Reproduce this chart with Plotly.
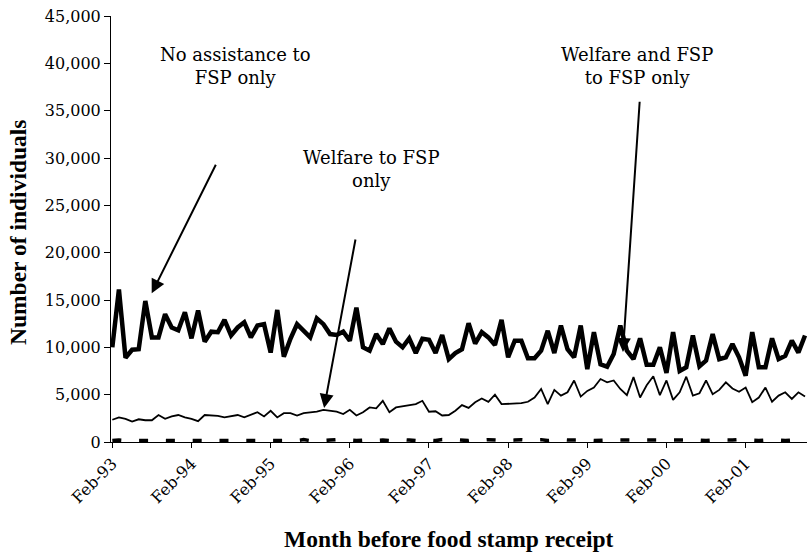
import pandas as pd
import plotly.graph_objects as go

# Monthly categories, Feb-93 .. Nov-01
months = list(pd.date_range("1993-02-01", "2001-11-01", freq="MS").strftime("%b-%y"))
tick_labels = months[::12]

# Number of individuals entering the FSP, by prior status
no_assistance = [
    10000, 16100, 8900, 9750, 9800, 14900, 11050, 11050, 13500, 12100, 11800, 13700,
    10950, 13900, 10600, 11650, 11600, 12900, 11250, 12100, 12650, 11050, 12300, 12450,
    9450, 13950, 9000, 10900, 12450, 11750, 11050, 13050, 12450, 11400, 11300, 11650,
    10700, 14200, 10000, 9650, 11400, 10350, 12000, 10600, 10000, 10950, 9400, 10900,
    10800, 9400, 11300, 8750, 9400, 9800, 12550, 10400, 11600, 11050, 10250, 12900,
    8950, 10700, 10700, 8850, 8850, 9650, 11750, 9400, 12300, 9800, 8950, 12300,
    7700, 11600, 8200, 7950, 9300, 12300, 9650, 8750, 10950, 8150, 8150, 10000,
    7300, 11600, 7500, 7900, 11250, 8000, 8600, 11400, 8750, 8950, 10350, 8950,
    7000, 11600, 7900, 7900, 10950, 8750, 9100, 10700, 9450, 11250,
]
welfare_to_fsp = [
    2350, 2600, 2450, 2150, 2400, 2300, 2300, 2850, 2450, 2700, 2850, 2600,
    2450, 2200, 2850, 2800, 2750, 2600, 2700, 2850, 2600, 2900, 3150, 2700,
    3300, 2600, 3050, 3050, 2800, 3050, 3150, 3200, 3400, 3300, 3200, 2950,
    3400, 2800, 3150, 3650, 3550, 4350, 3150, 3650, 3750, 3850, 4000, 4350,
    3200, 3250, 2800, 2850, 3300, 3900, 3600, 4200, 4600, 4250, 5000, 4000,
    4050, 4100, 4100, 4250, 4700, 5600, 4000, 5500, 4900, 5250, 6500, 4800,
    5400, 5750, 6650, 6300, 6500, 5600, 4950, 6850, 4700, 6000, 6950, 4950,
    6500, 4450, 5250, 6900, 4900, 5150, 6500, 5050, 5500, 6300, 5650, 5300,
    5750, 4200, 4700, 5750, 4250, 4900, 5250, 4550, 5250, 4800,
]
welfare_fsp_to_fsp = [
    150, 200, 150, 150, 200, 150, 200, 150, 150, 200, 150, 200,
    150, 200, 150, 150, 200, 200, 150, 150, 200, 150, 200, 150,
    150, 200, 150, 200, 150, 250, 150, 200, 150, 200, 250, 150,
    200, 150, 200, 250, 150, 200, 150, 200, 250, 200, 150, 250,
    200, 150, 250, 200, 250, 200, 150, 250, 200, 250, 200, 200,
    150, 200, 250, 200, 200, 250, 150, 200, 250, 200, 200, 250,
    200, 150, 200, 200, 250, 200, 200, 150, 200, 200, 150, 200,
    200, 150, 200, 200, 250, 200, 150, 200, 200, 150, 200, 250,
    200, 200, 150, 200, 250, 200, 150, 200, 200, 150,
]

SERIF = "DejaVu Serif"
SERIF_BOLD = "Liberation Serif"

fig = go.Figure()
fig.add_trace(go.Scatter(
    x=months, y=no_assistance, mode="lines", name="No assistance to FSP only",
    line=dict(color="black", width=4.5),
))
fig.add_trace(go.Scatter(
    x=months, y=welfare_to_fsp, mode="lines", name="Welfare to FSP only",
    line=dict(color="black", width=1.8),
))
fig.add_trace(go.Scatter(
    x=months, y=welfare_fsp_to_fsp, mode="lines", name="Welfare and FSP to FSP only",
    line=dict(color="black", width=3.5, dash="9px,17.8px"),
))

label_font = dict(family=SERIF, size=18, color="black")
arrow_style = dict(showarrow=True, arrowhead=2, arrowsize=1.4, arrowwidth=2,
                   arrowcolor="black", axref="x", ayref="y", text="")

annotations = [
    dict(x=18.7, y=39700, xref="x", yref="y", text="No assistance to<br>FSP only",
         showarrow=False, font=label_font, align="center"),
    dict(x=39.3, y=28800, xref="x", yref="y", text="Welfare to FSP<br>only",
         showarrow=False, font=label_font, align="center"),
    dict(x=79.5, y=39700, xref="x", yref="y", text="Welfare and FSP<br>to FSP only",
         showarrow=False, font=label_font, align="center"),
    dict(x=5.97, y=15700, ax=15.8, ay=29450, xref="x", yref="y", **arrow_style),
    dict(x=32.1, y=3600, ax=36.9, ay=21550, xref="x", yref="y", **arrow_style),
    dict(x=77.4, y=9500, ax=79.95, ay=36100, xref="x", yref="y", **arrow_style),
    dict(x=0.486, y=-0.227, xref="paper", yref="paper", showarrow=False,
         xanchor="center", yanchor="middle",
         text="<b>Month before food stamp receipt</b>",
         font=dict(family=SERIF_BOLD, size=23.5, color="black")),
    dict(x=-0.1336, y=0.493, xref="paper", yref="paper", showarrow=False,
         xanchor="center", yanchor="middle",
         text="<b>Number of individuals</b>", textangle=-90,
         font=dict(family=SERIF_BOLD, size=23.5, color="black")),
]

fig.update_layout(
    width=807, height=558,
    margin=dict(l=111, r=0, t=16, b=116, pad=0),
    paper_bgcolor="white", plot_bgcolor="white",
    showlegend=False,
    font=dict(family=SERIF, size=16, color="black"),
    annotations=annotations,
    xaxis=dict(
        type="category", range=[-0.2, 105.3],
        tickmode="array", tickvals=tick_labels, ticktext=tick_labels,
        tickangle=-45, ticks="outside", ticklen=5, tickcolor="black",
        showline=True, linecolor="black", linewidth=1,
        showgrid=False, zeroline=False,
        tickfont=dict(family=SERIF, size=16, color="black"),
    ),
    yaxis=dict(
        range=[0, 45000], dtick=5000, tickformat=",",
        ticks="outside", ticklen=6, tickcolor="black",
        showline=True, linecolor="black", linewidth=1,
        showgrid=False, zeroline=False,
        tickfont=dict(family=SERIF, size=16, color="black"),
    ),
)

fig.write_html("out.html")
